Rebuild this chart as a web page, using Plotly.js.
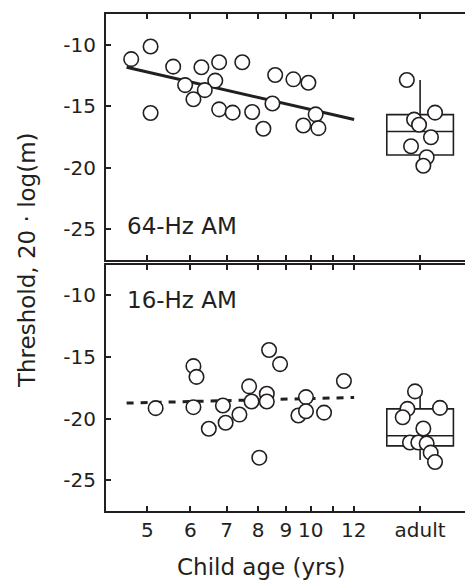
<!DOCTYPE html>
<html>
<head>
<meta charset="utf-8">
<script src="https://cdn.plot.ly/plotly-3.0.1.min.js"></script>
<style>html,body{margin:0;padding:0;background:#fff;}#chart{width:466px;height:582px;}</style>
</head>
<body>
<div id="chart"></div>
<script>
// ---- data (ages in years; adult plotted at a nominal jittered position) ----
var ages64 = [4.67, 5.07, 5.07, 5.58, 6.29, 6.78, 7.48, 5.87, 6.67, 6.38, 6.08, 6.78, 7.18, 7.80, 8.18, 8.60, 9.29, 9.90, 8.50, 10.21, 9.69, 10.33];
var thr64  = [-11.17, -10.14, -15.55, -11.78, -11.83, -11.42, -11.42, -13.28, -12.92, -13.69, -14.43, -15.25, -15.52, -15.47, -16.83, -12.46, -12.81, -13.09, -14.78, -15.66, -16.56, -16.78];

var ages16 = [5.18, 6.08, 6.16, 6.08, 6.49, 6.89, 6.97, 7.39, 7.70, 7.78, 8.38, 8.78, 8.30, 8.30, 9.80, 9.49, 9.80, 10.58, 11.51, 8.04];
var thr16  = [-19.15, -15.74, -16.61, -19.07, -20.82, -18.93, -20.33, -19.67, -17.38, -18.61, -14.43, -15.57, -17.98, -18.61, -18.25, -19.75, -19.40, -19.51, -16.94, -23.17];

var adultAge = 15.9;
var adultX64 = [15.03, 16.94, 15.50, 15.83, 16.65, 15.30, 16.35, 16.12];
var adult64  = [-12.87, -15.52, -16.09, -16.50, -17.52, -18.25, -19.15, -19.84];
var box64 = {q1: -18.96, median: -17.05, q3: -15.68, lower: -19.84, upper: -12.87};

var adultX16 = [15.56, 17.30, 15.07, 14.77, 16.12, 15.23, 15.78, 16.35, 16.63, 16.94];
var adult16  = [-17.79, -19.13, -19.21, -19.89, -20.80, -21.94, -21.94, -22.02, -22.76, -23.52];
var box16 = {q1: -22.21, median: -21.39, q3: -19.21, lower: -23.35, upper: -17.79};

var fitAge = [4.58, 12.02];
var fit64 = [-11.83, -16.07];
var fit16 = [-18.74, -18.28];

var tickAges = [5, 6, 7, 8, 9, 10, 11, 12, adultAge];
var tickLabels = ['5', '6', '7', '8', '9', '10', '', '12', 'adult'];
var yTicks = [-10, -15, -20, -25];
var yTickLabels = ['-10', '-15', '-20', '-25'];

// ---- build ----
var lg = function (a) { return a.map(function (v) { return Math.log10(v); }); };
var ink = '#231f20';
var FONT = 'DejaVu Sans, sans-serif';
var circ = {symbol: 'circle', size: 14.5, color: 'white', line: {color: ink, width: 1.6}};

function boxTrace(b, ya) {
  return {type: 'box', x: [Math.log10(adultAge)], q1: [b.q1], median: [b.median], q3: [b.q3],
    lowerfence: [b.lower], upperfence: [b.upper], width: 0.1227, whiskerwidth: 0,
    boxpoints: false, fillcolor: 'white', line: {color: ink, width: 1.6},
    xaxis: ya === 'y2' ? 'x2' : 'x', yaxis: ya, hoverinfo: 'skip', showlegend: false};
}

var traces = [
  boxTrace(box64, 'y2'),
  {type: 'scatter', mode: 'lines', x: lg(fitAge), y: fit64, xaxis: 'x2', yaxis: 'y2',
   line: {color: ink, width: 3}, showlegend: false},
  {type: 'scatter', mode: 'markers', x: lg(ages64), y: thr64, xaxis: 'x2', yaxis: 'y2', marker: circ, showlegend: false},
  {type: 'scatter', mode: 'markers', x: lg(adultX64), y: adult64, xaxis: 'x2', yaxis: 'y2', marker: circ, showlegend: false},

  boxTrace(box16, 'y'),
  {type: 'scatter', mode: 'lines', x: lg(fitAge), y: fit16, xaxis: 'x', yaxis: 'y',
   line: {color: ink, width: 3, dash: '7px,7px'}, showlegend: false},
  {type: 'scatter', mode: 'markers', x: lg(ages16), y: thr16, xaxis: 'x', yaxis: 'y', marker: circ, showlegend: false},
  {type: 'scatter', mode: 'markers', x: lg(adultX16), y: adult16, xaxis: 'x', yaxis: 'y', marker: circ, showlegend: false}
];

var xRange = [0.6229, 1.2841];
function xAxis(anchor, labels) {
  return {domain: [0, 1], range: xRange, anchor: anchor, type: 'linear',
    tickmode: 'array', tickvals: lg(tickAges), ticktext: tickLabels, showticklabels: labels,
    ticks: 'inside', ticklen: 5, tickwidth: 2, tickcolor: ink,
    showline: true, linewidth: 2, linecolor: ink, mirror: 'ticks',
    showgrid: false, zeroline: false, tickfont: {family: FONT, size: 20, color: ink}};
}
function yAxis(domain, anchor) {
  return {domain: domain, range: [-27.5, -7.5], anchor: anchor,
    tickmode: 'array', tickvals: yTicks, ticktext: yTickLabels,
    ticks: 'inside', ticklen: 5, tickwidth: 2, tickcolor: ink, ticklabelstandoff: 4,
    showline: true, linewidth: 2, linecolor: ink, mirror: false,
    showgrid: false, zeroline: false, tickfont: {family: FONT, size: 20, color: ink}};
}

var layout = {
  width: 466, height: 582,
  margin: {l: 106, r: 1, t: 14, b: 71, pad: 0},
  paper_bgcolor: 'white', plot_bgcolor: 'white',
  showlegend: false,
  font: {family: FONT, color: ink},
  xaxis: xAxis('y', true),
  xaxis2: xAxis('y2', false),
  yaxis: yAxis([0, 0.4956], 'x'),
  yaxis2: yAxis([0.505, 1], 'x2'),
  annotations: [
    {text: '64-Hz AM', xref: 'paper', yref: 'y2', x: 0.053, y: -24.75, xanchor: 'left', yanchor: 'middle',
     showarrow: false, font: {family: FONT, size: 23, color: ink}},
    {text: '16-Hz AM', xref: 'paper', yref: 'y', x: 0.053, y: -10.33, xanchor: 'left', yanchor: 'middle',
     showarrow: false, font: {family: FONT, size: 23, color: ink}},
    {text: 'Child age (yrs)', xref: 'paper', yref: 'paper', x: 0.433, y: -0.113, xanchor: 'center', yanchor: 'middle',
     showarrow: false, font: {family: FONT, size: 23, color: ink}},
    {text: 'Threshold, 20 · log(m)', xref: 'paper', yref: 'paper', x: -0.22, y: 0.505, xanchor: 'center', yanchor: 'middle',
     textangle: -90, showarrow: false, font: {family: FONT, size: 23, color: ink}}
  ]
};

Plotly.newPlot('chart', traces, layout, {displayModeBar: false, staticPlot: true});
</script>
</body>
</html>
